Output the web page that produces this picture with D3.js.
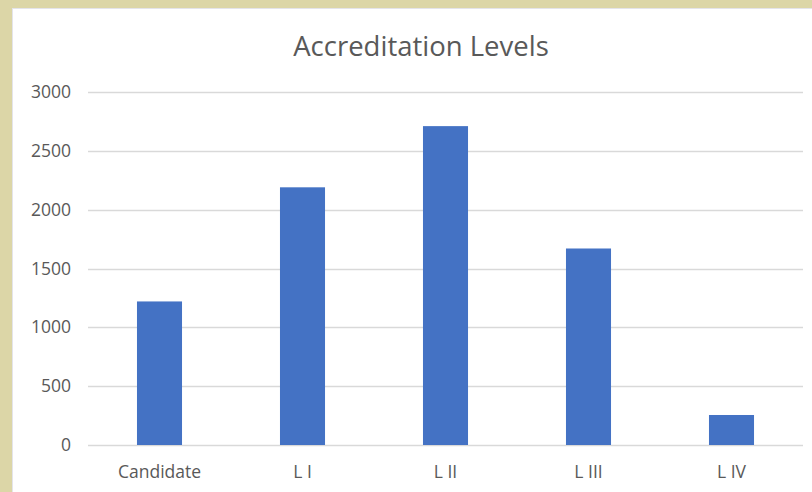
<!DOCTYPE html>
<html><head><meta charset="utf-8">
<script src="https://cdn.jsdelivr.net/npm/d3@7"></script>
<style>html,body{margin:0;padding:0;background:#fff;}svg{display:block;}</style>
</head><body>
<svg id="c" width="812" height="492"></svg>
<script>
const categories = ["Candidate", "L I", "L II", "L III", "L IV"];
const values = [1220, 2190, 2710, 1670, 255];
const yTicks = [0, 500, 1000, 1500, 2000, 2500, 3000];
const title = "Accreditation Levels";

const svg = d3.select("#c");
const W = 812, H = 492;
const font = "'Open Sans', sans-serif";
const textColor = "#595959";

// frame
svg.append("rect").attr("x",0).attr("y",0).attr("width",W).attr("height",H).attr("fill","#dcd6a7");
svg.append("rect").attr("x",12.5).attr("y",8.5).attr("width",W).attr("height",H).attr("fill","#fff").attr("stroke","#e4e4ea").attr("stroke-width",1);

const x = d3.scaleBand().domain(categories).range([88, 803]).paddingInner(0.685).paddingOuter(0.3425);
const y = d3.scaleLinear().domain([0, 3000]).range([445, 92]);

// gridlines
svg.append("g").selectAll("line").data(yTicks).join("line")
  .attr("x1", 88).attr("x2", 803)
  .attr("y1", d => Math.round(y(d)) + 0.5).attr("y2", d => Math.round(y(d)) + 0.5)
  .attr("stroke", "#d9d9d9").attr("stroke-width", 1.5);

// y axis labels
const yAxis = d3.axisLeft(y).tickValues(yTicks).tickFormat(d3.format("d")).tickSize(0).tickPadding(0);
const gy = svg.append("g").attr("transform", "translate(71,0)").call(yAxis);
gy.select(".domain").remove();
gy.selectAll("text").attr("fill", textColor).style("font-family", font).style("font-size", "17.5px");

// bars
svg.append("g").selectAll("rect").data(values).join("rect")
  .attr("x", (d,i) => x(categories[i]))
  .attr("width", x.bandwidth())
  .attr("y", d => y(d))
  .attr("height", d => y(0) - y(d))
  .attr("fill", "#4472c4");

// x axis labels
const xAxis = d3.axisBottom(x).tickSize(0).tickPadding(0);
const gx = svg.append("g").attr("transform", "translate(0,466)").call(xAxis);
gx.select(".domain").remove();
gx.selectAll("text").attr("fill", textColor).style("font-family", font).style("font-size", "17.5px");

// title
svg.append("text").attr("x", 421).attr("y", 56).attr("text-anchor", "middle")
  .attr("fill", textColor).style("font-family", font).style("font-size", "27.5px").text(title);
</script>
</body></html>
